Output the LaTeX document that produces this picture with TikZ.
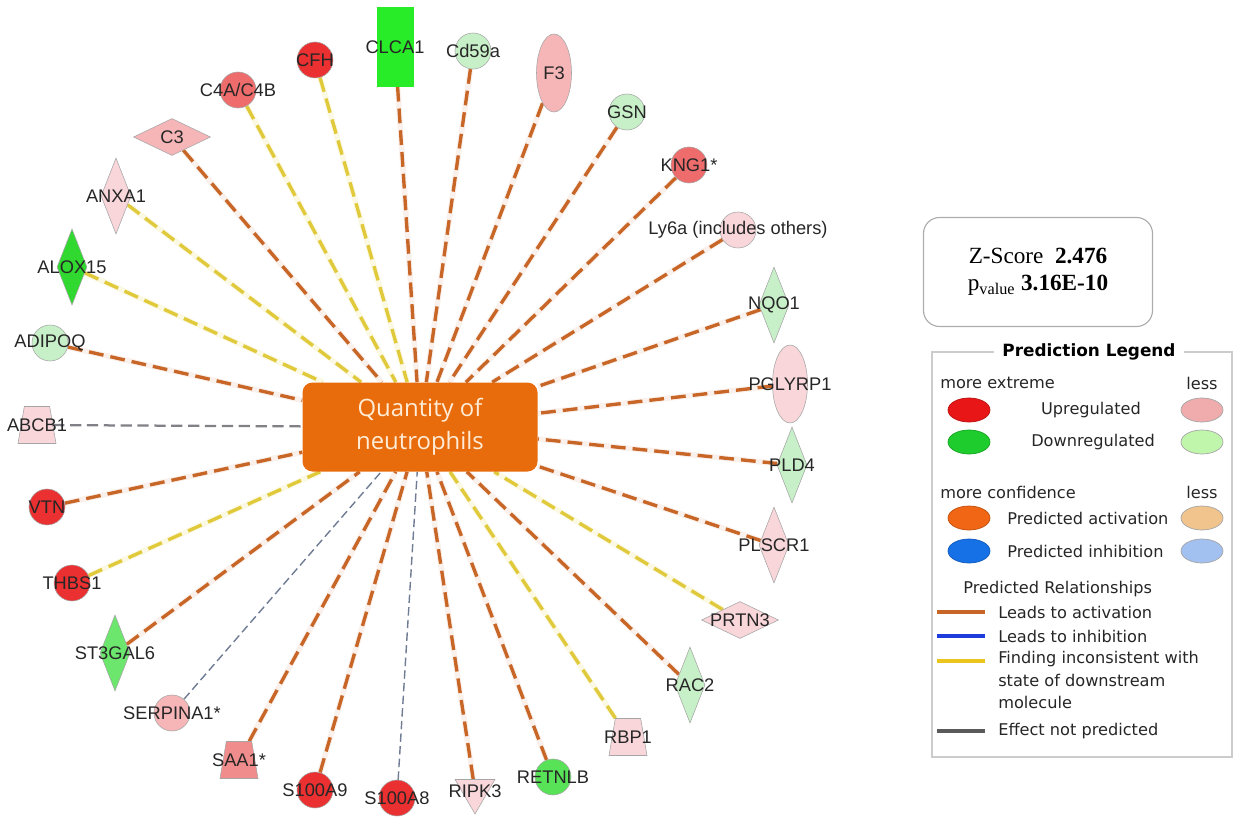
\documentclass[tikz,border=0pt]{standalone}
\usepackage{fontspec}
\setmainfont{Liberation Sans}
\newfontfamily\boxfont{Liberation Serif}
\newfontfamily\legfont{DejaVu Sans}
\newfontfamily\hubfont{Open Sans}
\usepackage{xcolor}
\usepackage{tikz}
\usetikzlibrary{shapes.geometric, backgrounds}

\definecolor{hubc}{RGB}{232,108,12}
\definecolor{hubtext}{RGB}{255,236,214}
\definecolor{redS}{RGB}{234,48,48}
\definecolor{redM}{RGB}{238,108,108}
\definecolor{redL}{RGB}{240,140,140}
\definecolor{pinkM}{RGB}{246,182,184}
\definecolor{pinkL}{RGB}{248,214,218}
\definecolor{grnL}{RGB}{200,240,200}
\definecolor{grnS}{RGB}{40,236,40}
\definecolor{grnA}{RGB}{48,216,48}
\definecolor{grnR}{RGB}{88,226,88}
\definecolor{grnT}{RGB}{108,230,108}
\definecolor{actc}{RGB}{200,102,40}
\definecolor{incc}{RGB}{224,202,60}
\definecolor{nonc}{RGB}{128,128,134}
\definecolor{nonthin}{RGB}{112,124,148}
\definecolor{legred}{RGB}{232,22,22}
\definecolor{legpink}{RGB}{240,172,172}
\definecolor{leggreen}{RGB}{30,205,45}
\definecolor{legltgreen}{RGB}{192,245,172}
\definecolor{legorange}{RGB}{240,102,20}
\definecolor{legtan}{RGB}{240,196,140}
\definecolor{legblue}{RGB}{22,112,230}
\definecolor{legltblue}{RGB}{162,192,240}
\definecolor{lineblue}{RGB}{30,60,220}
\definecolor{lineyellow}{RGB}{236,196,30}
\definecolor{linegray}{RGB}{90,90,90}

\newcommand{\lblfont}{\fontsize{13}{15}\selectfont}
\newcommand{\legsize}{\legfont\fontsize{11.5}{16}\selectfont}

\begin{document}
\begin{tikzpicture}[
    x=0.25mm, y=-0.25mm,
    lbl/.style={font=\lblfont, text=black!85, inner sep=0pt},
    mol/.style={draw=gray!70, line width=0.4pt, inner sep=0pt, label={[lbl]center:#1}},
    gcirc/.style={circle, minimum size=9mm},
    gtall/.style={diamond, minimum width=7.5mm, minimum height=19mm},
    gwide/.style={diamond, minimum width=19.25mm, minimum height=9.25mm},
    gell/.style={ellipse, minimum width=8.75mm, minimum height=19.5mm},
    gbox/.style={rectangle, minimum width=9mm, minimum height=19.75mm},
    gtrap/.style={trapezium, trapezium stretches=true, trapezium angle=76, minimum width=9.5mm, minimum height=9.25mm, inner sep=1pt},
    gtri/.style={regular polygon, regular polygon sides=3, shape border rotate=180, minimum size=11.5mm},
    hubbox/.style={rectangle, rounded corners=2.5mm, fill=hubc, text=hubtext, minimum width=58.75mm, minimum height=22.25mm, align=center, font=\hubfont\fontsize{17}{23.5}\selectfont},
    act/.style={draw=actc, line width=2.4pt, dash pattern=on 10.5pt off 5pt, preaction={draw=actc!9, line width=4pt, solid}},
    incons/.style={draw=incc, line width=2.4pt, dash pattern=on 10.5pt off 5pt, preaction={draw=incc!14, line width=4pt, solid}},
    nopred/.style={draw=nonc, line width=1.6pt, dash pattern=on 8pt off 4pt},
    nopredthin/.style={draw=nonthin, line width=1pt, dash pattern=on 6pt off 3pt},
    zbox/.style={rectangle, rounded corners=4mm, draw=gray!65, line width=0.8pt, minimum width=57.25mm, minimum height=27.25mm, align=center, font=\boxfont\fontsize{16.5}{19}\selectfont},
    legtxt/.style={font=\legsize, text=black!85, inner sep=0pt},
    legov/.style={ellipse, draw=gray!70, line width=0.5pt, minimum width=10.5mm, minimum height=6mm},
    legline/.style={line width=2.8pt}
]
\useasboundingbox (0,0) rectangle (1233,825);

\node[hubbox] (hub) at (420,427) {Quantity of\\neutrophils};

\node[gbox, mol=CLCA1, fill=grnS, draw=grnS] (clca1) at (395,47) {};
\node[gcirc, mol=Cd59a, fill=grnL] (cd59a) at (473,51) {};
\node[gell, mol=F3, fill=pinkM] (f3) at (554,73) {};
\node[gcirc, mol=GSN, fill=grnL] (gsn) at (627,112) {};
\node[gcirc, mol=KNG1*, fill=redM] (kng1) at (689,165) {};
\node[gcirc, mol=Ly6a (includes others), fill=pinkL] (ly6a) at (738,230) {};
\node[gtall, mol=NQO1, fill=grnL] (nqo1) at (774,305) {};
\node[gell, mol=PGLYRP1, fill=pinkL] (pglyrp1) at (790,384) {};
\node[gtall, mol=PLD4, fill=grnL] (pld4) at (792,465) {};
\node[gtall, mol=PLSCR1, fill=pinkL] (plscr1) at (774,545) {};
\node[gwide, mol=PRTN3, fill=pinkL] (prtn3) at (740,620) {};
\node[gtall, mol=RAC2, fill=grnL] (rac2) at (690,685) {};
\node[mol=RBP1, gtrap, fill=pinkL] (rbp1) at (628,737) {};
\node[gcirc, mol=RETNLB, fill=grnR] (retnlb) at (553,777) {};
\node[gtri, mol=RIPK3, fill=pinkL] (ripk3) at (475,791) {};
\node[gcirc, mol=S100A8, fill=redS] (s100a8) at (397,798) {};
\node[gcirc, mol=S100A9, fill=redS] (s100a9) at (315,790) {};
\node[mol=SAA1*, gtrap, fill=redL] (saa1) at (239,760) {};
\node[gcirc, mol=SERPINA1*, fill=pinkM] (serpina1) at (172,713) {};
\node[gtall, mol=ST3GAL6, fill=grnT] (st3gal6) at (115,653) {};
\node[gcirc, mol=THBS1, fill=redS] (thbs1) at (72,583) {};
\node[gcirc, mol=VTN, fill=redS] (vtn) at (47,507) {};
\node[mol=ABCB1, gtrap, fill=pinkL] (abcb1) at (37,425) {};
\node[gcirc, mol=ADIPOQ, fill=grnL] (adipoq) at (50,343) {};
\node[gtall, mol=ALOX15, fill=grnA] (alox15) at (72,267) {};
\node[gtall, mol=ANXA1, fill=pinkL] (anxa1) at (116,196) {};
\node[gwide, mol=C3, fill=pinkM] (c3) at (172,137) {};
\node[gcirc, mol=C4A/C4B, fill=redM] (c4) at (238,90) {};
\node[gcirc, mol=CFH, fill=redS] (cfh) at (315,60) {};

\begin{scope}[on background layer]
\foreach \m in {clca1,cd59a,f3,gsn,kng1,ly6a,nqo1,pglyrp1,pld4,plscr1,rac2,retnlb,ripk3,s100a9,saa1,st3gal6,vtn,adipoq,c3}
    \draw[act] (\m) -- (hub);
\foreach \m in {prtn3,rbp1,thbs1,alox15,anxa1,c4,cfh}
    \draw[incons] (\m) -- (hub);
\draw[nopred] (abcb1) -- (hub);
\foreach \m in {s100a8,serpina1}
    \draw[nopredthin] (\m) -- (hub);
\end{scope}

\node[zbox] (zscore) at (1038,272) {Z-Score\ \ \textbf{2.476}\\p\textsubscript{value} \textbf{3.16E-10}};

\draw[draw=gray!40, line width=0.8pt] (932,352) rectangle (1232,757);
\node[font=\legfont\bfseries\fontsize{12}{14}\selectfont, fill=white, inner xsep=6pt, inner ysep=1pt] (legtitle) at (1089,352) {Prediction Legend};

\node[legtxt, anchor=west] (mext) at (940,383) {more extreme};
\node[legtxt] (lessA) at (1202,383) {less};
\node[legov, fill=legred, draw=legred!80!black] (upS) at (969,410) {};
\node[legtxt] (upT) at (1091,410) {Upregulated};
\node[legov, fill=legpink] (upW) at (1202,410) {};
\node[legov, fill=leggreen, draw=leggreen!80!black] (dnS) at (969,442) {};
\node[legtxt] (dnT) at (1093,442) {Downregulated};
\node[legov, fill=legltgreen] (dnW) at (1202,442) {};

\node[legtxt, anchor=west] (mconf) at (940,492) {more confidence};
\node[legtxt] (lessB) at (1202,492) {less};
\node[legov, fill=legorange, draw=legorange!80!black] (paS) at (969,518) {};
\node[legtxt, anchor=west] (paT) at (1007,518) {Predicted activation};
\node[legov, fill=legtan] (paW) at (1202,518) {};
\node[legov, fill=legblue, draw=legblue!80!black] (piS) at (969,551) {};
\node[legtxt, anchor=west] (piT) at (1007,551) {Predicted inhibition};
\node[legov, fill=legltblue] (piW) at (1202,551) {};

\node[legtxt, anchor=west] (prel) at (963,589) {Predicted Relationships};
\coordinate (la) at (937,612);
\coordinate (lb) at (985,612);
\draw[legline, draw=actc] (la) -- (lb);
\node[legtxt, anchor=west] (laT) at (998,612) {Leads to activation};
\coordinate (ia) at (937,636);
\coordinate (ib) at (985,636);
\draw[legline, draw=lineblue] (ia) -- (ib);
\node[legtxt, anchor=west] (iaT) at (998,636) {Leads to inhibition};
\coordinate (fa) at (937,661);
\coordinate (fb) at (985,661);
\draw[legline, draw=lineyellow] (fa) -- (fb);
\node[legtxt, anchor=north west, align=left] (faT) at (998,651) {Finding inconsistent with\\state of downstream\\molecule};
\coordinate (ea) at (937,731);
\coordinate (eb) at (985,731);
\draw[legline, draw=linegray] (ea) -- (eb);
\node[legtxt, anchor=west] (eaT) at (998,731) {Effect not predicted};

\end{tikzpicture}
\end{document}
